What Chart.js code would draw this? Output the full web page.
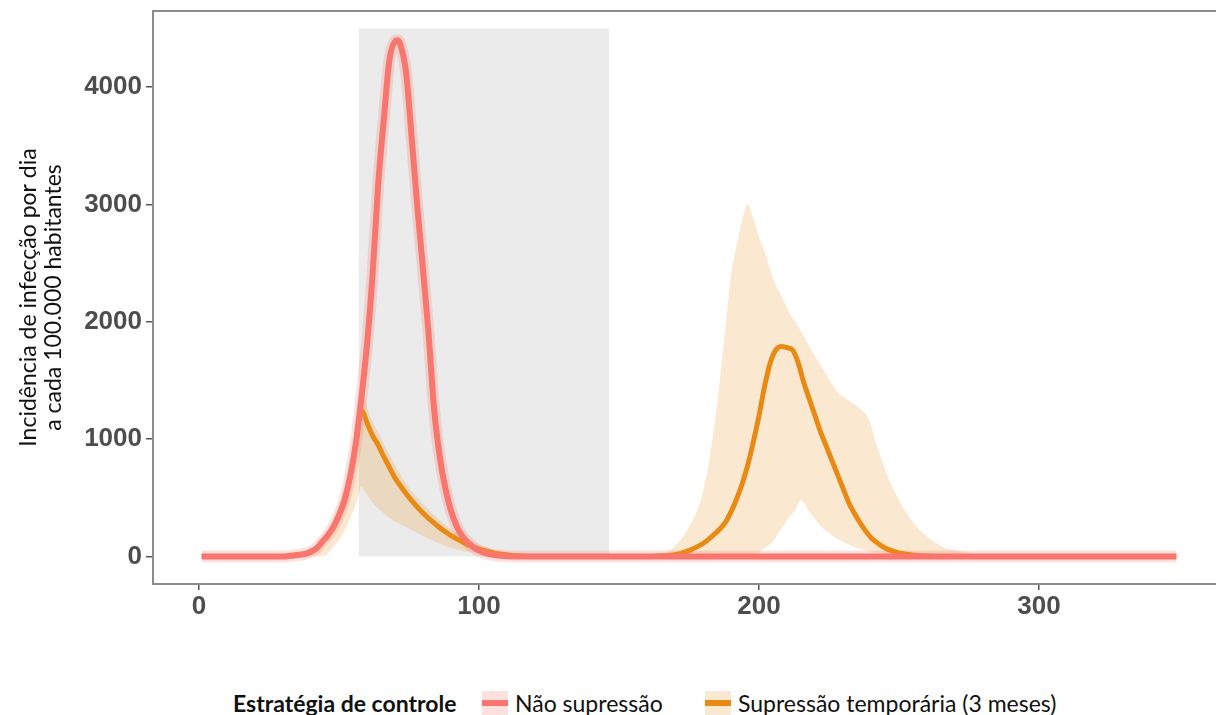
<!DOCTYPE html>
<html lang="pt">
<head>
<meta charset="utf-8">
<title>Incidência de infecção por dia</title>
<script src="https://cdn.jsdelivr.net/npm/chart.js@4.4.1/dist/chart.umd.min.js"></script>
<style>
  html, body { margin: 0; padding: 0; background: #fff; overflow: hidden; }
  #frame { position: relative; width: 1216px; height: 715px; overflow: hidden; }
  #grafico { position: absolute; left: 0; top: 0; }
  .legenda { position: absolute; top: 689px; font-family: Lato, 'Open Sans', sans-serif; font-size: 23px; color: #111; line-height: 28px; white-space: nowrap; }
  .chave { position: absolute; top: 691px; width: 26px; height: 24px; }
  .chave span { position: absolute; left: 0; right: 0; top: 9px; height: 6px; }
</style>
</head>
<body>
<div id="frame">
  <canvas id="grafico" width="1240" height="640"></canvas>
  <div class="legenda" style="left:233px"><b>Estratégia de controle</b></div>
  <div class="chave" id="chave1" style="left:482px"><span></span></div>
  <div class="legenda" style="left:515px">Não supressão</div>
  <div class="chave" id="chave2" style="left:705px"><span></span></div>
  <div class="legenda" style="left:738px">Supressão temporária (3 meses)</div>
</div>
<script>
// Eixos
const xTicks = [0, 100, 200, 300];
const yTicks = [0, 1000, 2000, 3000, 4000];

// Período de supressão (faixa cinza)
const supressaoDias = [57, 146.5];
const supressaoTopo = [4500, 4500];

// Não supressão
const pinkDays = [
  1, 30, 32, 34, 36, 38, 40, 42, 44, 46,
  48, 50, 52, 54, 56, 58, 60, 62, 64, 66,
  68, 70, 71, 72, 74, 76, 78, 80, 82, 84,
  86, 88, 90, 92, 94, 96, 98, 100, 102, 104,
  106, 108, 110, 112, 349
];
const pinkValues = [
  0, 0, 3, 8, 15, 22, 40, 70, 125, 180,
  250, 350, 480, 680, 960, 1350, 1800, 2400, 3170, 3720,
  4230, 4390, 4400, 4360, 4120, 3560, 2980, 2450, 1900, 1250,
  850, 580, 390, 260, 175, 120, 80, 50, 30, 18,
  10, 5, 2, 0, 0
];

// Supressão temporária (3 meses)
const orangeDays = [
  1, 30, 32, 34, 36, 38, 40, 42, 44, 46,
  48, 50, 52, 54, 56, 57, 58, 59, 60, 62,
  64, 66, 68, 70, 72, 74, 76, 78, 80, 82,
  84, 86, 88, 90, 92, 94, 96, 98, 100, 104,
  108, 112, 116, 120, 160, 165, 170, 175, 180, 185,
  188, 190, 192, 194, 196, 198, 200, 202, 204, 206,
  208, 210, 212, 214, 216, 218, 220, 222, 224, 226,
  228, 230, 232, 234, 236, 238, 240, 242, 244, 246,
  250, 255, 260, 265, 349
];
const orangeValues = [
  0, 0, 3, 8, 15, 22, 40, 70, 125, 180,
  250, 350, 480, 680, 960, 1150, 1240, 1210, 1140, 1030,
  950, 850, 760, 670, 600, 535, 475, 420, 370, 325,
  285, 245, 210, 178, 150, 125, 100, 80, 62, 36,
  18, 8, 3, 0, 0, 5, 15, 50, 110, 210,
  290, 380, 490, 620, 780, 980, 1200, 1450, 1650, 1760,
  1790, 1780, 1760, 1650, 1480, 1340, 1200, 1060, 940, 820,
  700, 580, 460, 370, 290, 220, 160, 120, 85, 60,
  30, 12, 4, 0, 0
];

// Intervalo da supressão temporária
const ribbonDays = [
  1, 40, 44, 48, 52, 55, 57, 58, 59, 60,
  62, 64, 66, 68, 70, 74, 78, 82, 86, 90,
  95, 100, 105, 110, 115, 120, 125, 160, 165, 170,
  175, 180, 184, 186, 188, 190, 192, 194, 196, 198,
  200, 202, 205, 208, 211, 213, 215, 218, 222, 225,
  228, 232, 236, 239, 242, 246, 250, 253, 256, 260,
  265, 270, 275, 280, 285, 349
];
const ribbonLow = [
  0, 0, 0, 80, 220, 380, 520, 600, 560, 530,
  460, 410, 370, 330, 300, 250, 200, 150, 110, 75,
  45, 25, 10, 3, 0, 0, 0, 0, 0, 0,
  0, 0, 0, 0, 0, 0, 0, 0, 0, 0,
  40, 70, 130, 240, 340, 400, 480, 380, 260, 200,
  150, 100, 65, 45, 32, 15, 5, 0, 0, 0,
  0, 0, 0, 0, 0, 0
];
const ribbonHigh = [
  0, 60, 150, 320, 600, 950, 1350, 1450, 1400, 1280,
  1150, 1060, 960, 870, 780, 620, 500, 400, 310, 230,
  160, 100, 60, 35, 18, 8, 0, 0, 20, 90,
  250, 550, 1100, 1500, 1950, 2400, 2650, 2870, 3000, 2880,
  2720, 2600, 2370, 2220, 2070, 2000, 1920, 1790, 1630, 1510,
  1400, 1330, 1260, 1180, 950, 680, 480, 360, 260, 170,
  90, 55, 30, 12, 0, 0
];

const corRosa = '#F8766D';
const corLaranja = '#E88A14';
const faixaRosa = 'rgba(248, 118, 109, 0.22)';
const faixaLaranja = 'rgba(232, 138, 20, 0.2)';

function pontos(xs, ys) {
  return xs.map((x, i) => ({ x: x, y: ys[i] }));
}

// chaves da legenda
document.querySelector('#chave1').style.background = faixaRosa;
document.querySelector('#chave1 span').style.background = corRosa;
document.querySelector('#chave2').style.background = faixaLaranja;
document.querySelector('#chave2 span').style.background = corLaranja;

// moldura do painel
const moldura = {
  id: 'moldura',
  afterDatasetsDraw(chart) {
    const { ctx, chartArea: a } = chart;
    ctx.save();
    ctx.strokeStyle = '#8c8c8c';
    ctx.lineWidth = 2;
    ctx.strokeRect(a.left, a.top, a.right - a.left, a.bottom - a.top);
    ctx.restore();
  }
};

const linha = {
  pointRadius: 0,
  cubicInterpolationMode: 'monotone',
  borderCapStyle: 'butt',
  borderJoinStyle: 'round'
};

const fonteTicks = { family: "'Liberation Sans', Arial, sans-serif", size: 26, weight: 'bold' };

new Chart(document.getElementById('grafico'), {
  type: 'line',
  data: {
    datasets: [
      {
        data: pontos(supressaoDias, supressaoTopo),
        borderWidth: 0,
        pointRadius: 0,
        backgroundColor: '#EBEBEB',
        fill: 'origin',
        order: 10
      },
      Object.assign({
        data: pontos(ribbonDays, ribbonLow),
        borderWidth: 0,
        borderColor: 'rgba(0,0,0,0)',
        fill: false,
        order: 9
      }, linha),
      Object.assign({
        data: pontos(ribbonDays, ribbonHigh),
        borderWidth: 0,
        borderColor: 'rgba(0,0,0,0)',
        backgroundColor: faixaLaranja,
        fill: 1,
        order: 8
      }, linha),
      Object.assign({
        data: pontos(pinkDays, pinkValues),
        borderWidth: 12,
        borderColor: faixaRosa,
        fill: false,
        order: 7
      }, linha),
      Object.assign({
        label: 'Supressão temporária (3 meses)',
        data: pontos(orangeDays, orangeValues),
        borderWidth: 5,
        borderColor: corLaranja,
        fill: false,
        order: 6
      }, linha),
      Object.assign({
        label: 'Não supressão',
        data: pontos(pinkDays, pinkValues),
        borderWidth: 6,
        borderColor: corRosa,
        fill: false,
        order: 5
      }, linha)
    ]
  },
  options: {
    responsive: false,
    animation: false,
    devicePixelRatio: 1,
    layout: { padding: { top: 11, right: 15, bottom: 0, left: 0 } },
    plugins: {
      legend: { display: false },
      tooltip: { enabled: false }
    },
    scales: {
      x: {
        type: 'linear',
        min: -16.4,
        max: 366.4,
        afterBuildTicks: s => { s.ticks = xTicks.map(v => ({ value: v })); },
        afterFit: s => { s.height = 56; s.paddingLeft = 0; s.paddingRight = 0; },
        border: { display: false },
        grid: { drawOnChartArea: false, drawTicks: true, tickLength: 6, color: '#555', lineWidth: 1.5 },
        ticks: { color: '#4D4D4D', font: fonteTicks, padding: 1, maxRotation: 0, callback: v => String(v) }
      },
      y: {
        type: 'linear',
        min: -235,
        max: 4650,
        afterBuildTicks: s => { s.ticks = yTicks.map(v => ({ value: v })); },
        afterFit: s => { s.width = 153; s.paddingTop = 0; s.paddingBottom = 0; },
        border: { display: false },
        grid: { drawOnChartArea: false, drawTicks: true, tickLength: 7, color: '#555', lineWidth: 1.5 },
        ticks: { color: '#4D4D4D', font: fonteTicks, padding: 4, callback: v => String(v) },
        title: {
          display: true,
          text: ['Incidência de infecção por dia', 'a cada 100.000 habitantes'],
          color: '#111',
          font: { family: "Lato, 'Open Sans', sans-serif", size: 23, lineHeight: 1.05 },
          padding: { top: 17, bottom: 0 }
        }
      }
    }
  },
  plugins: [moldura]
});
</script>
</body>
</html>
